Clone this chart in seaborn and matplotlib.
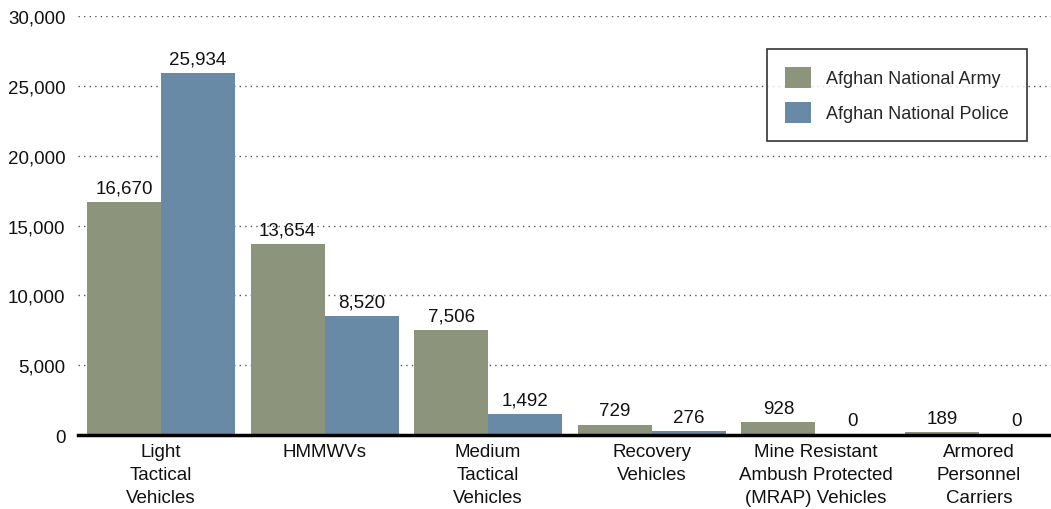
import pandas as pd
import matplotlib.pyplot as plt
import seaborn as sns
from matplotlib.ticker import FuncFormatter

# Chart data
categories = ["Light\nTactical\nVehicles", "HMMWVs", "Medium\nTactical\nVehicles",
              "Recovery\nVehicles", "Mine Resistant\nAmbush Protected\n(MRAP) Vehicles",
              "Armored\nPersonnel\nCarriers"]
army = [16670, 13654, 7506, 729, 928, 189]
police = [25934, 8520, 1492, 276, 0, 0]
series = ["Afghan National Army", "Afghan National Police"]
colors = ["#8c947c", "#688aa6"]

df = pd.DataFrame({
    "Category": categories * 2,
    "Force": [series[0]] * len(categories) + [series[1]] * len(categories),
    "Vehicles": army + police,
})

sns.set_theme(style="white")
plt.rcParams['font.family'] = ['Liberation Sans Narrow', 'Liberation Sans', 'DejaVu Sans']
plt.rcParams['font.size'] = 13

fig = plt.figure(figsize=(10.51, 5.10), dpi=100)
ax = fig.add_axes([0.0742, 0.145, 0.9258, 0.8216])

sns.barplot(data=df, x="Category", y="Vehicles", hue="Force", palette=colors,
            width=0.905, saturation=1, linewidth=0, order=categories,
            hue_order=series, ax=ax)

for cont in ax.containers:
    ax.bar_label(cont, labels=[f"{v:,.0f}" for v in cont.datavalues],
                 padding=4, fontsize=13.5, color="#111111")

ax.set_ylim(0, 30000)
ax.set_xlim(-0.507, 5.44)
ax.set_yticks(range(0, 30001, 5000))
ax.yaxis.set_major_formatter(FuncFormatter(lambda v, p: f"{v:,.0f}"))
ax.tick_params(axis="both", length=0, labelsize=13.5, colors="#111111")
ax.tick_params(axis="y", pad=9)
ax.tick_params(axis="x", pad=6)
for lbl in ax.get_xticklabels():
    lbl.set_linespacing(1.45)
ax.yaxis.grid(True, linestyle=(0, (1, 3)), color="#555555", linewidth=1)
ax.set_axisbelow(True)
for s in ["left", "right", "top"]:
    ax.spines[s].set_visible(False)
ax.spines["bottom"].set_color("black")
ax.spines["bottom"].set_linewidth(2.5)
ax.set_xlabel("")
ax.set_ylabel("")

leg = ax.legend(loc="upper right", bbox_to_anchor=(0.975, 0.922), frameon=True,
                fancybox=False, edgecolor="black", fontsize=13,
                handlelength=1.45, handleheight=1.45, handletextpad=0.8,
                borderpad=1.0, labelspacing=0.75, borderaxespad=0)
leg.get_frame().set_linewidth(1.2)

fig.savefig("out.png", dpi=100)
